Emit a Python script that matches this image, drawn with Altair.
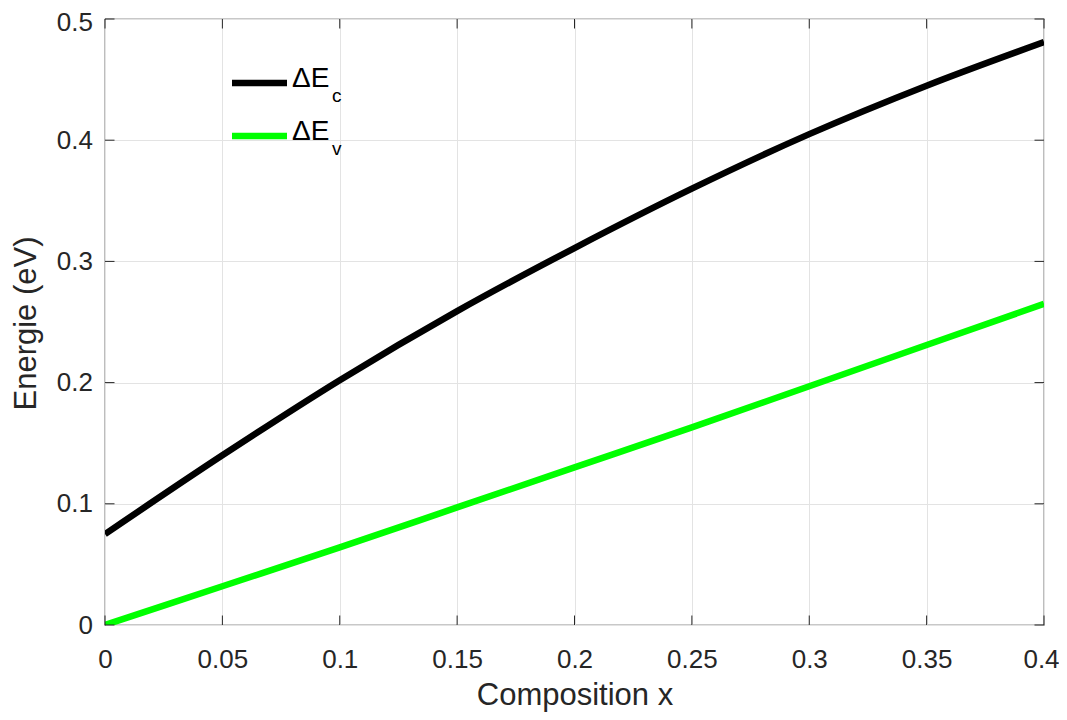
import altair as alt
import pandas as pd

# ---- data ----
composition = [0.0, 0.05, 0.10, 0.15, 0.20, 0.25, 0.30, 0.35, 0.40]
delta_ec = [0.075, 0.140, 0.202, 0.259, 0.311, 0.360, 0.405, 0.445, 0.481]
delta_ev = [0.0, 0.032, 0.064, 0.097, 0.130, 0.163, 0.197, 0.231, 0.265]

x_ticks = [0, 0.05, 0.1, 0.15, 0.2, 0.25, 0.3, 0.35, 0.4]
y_ticks = [0, 0.1, 0.2, 0.3, 0.4, 0.5]

series_names = ["Ec", "Ev"]
series_colors = ["#000000", "#00ff00"]
legend_main = ["\u0394E", "\u0394E"]
legend_sub = ["c", "v"]

W, H = 939, 606
FONT = "Liberation Sans"
AX = "#262626"

rows = []
for i, x in enumerate(composition):
    rows.append({"x": x, "y": delta_ec[i], "s": "Ec"})
    rows.append({"x": x, "y": delta_ev[i], "s": "Ev"})
df = pd.DataFrame(rows)

xs = alt.Scale(domain=[0, 0.4], nice=False, zero=False)
ys = alt.Scale(domain=[0, 0.5], nice=False, zero=False)
cs = alt.Scale(domain=series_names, range=series_colors)

lines = alt.Chart(df).mark_line(strokeWidth=6.5, interpolate="monotone", clip=True).encode(
    x=alt.X("x:Q", scale=xs, title="Composition x",
            axis=alt.Axis(values=x_ticks, format="~g", grid=True, gridColor="#e3e3e3",
                          gridWidth=1, domain=False, ticks=False, labelPadding=21,
                          labelFontSize=26, labelFont=FONT, labelColor=AX,
                          labelOffset={"condition": {"test": "datum.value >= 0.4", "value": -3},
                                       "value": 0},
                          titleFont=FONT, titleFontSize=31, titleFontWeight="normal",
                          titleColor=AX, titleY=79, titleBaseline="alphabetic",
                          labelFlush=False)),
    y=alt.Y("y:Q", scale=ys, title="Energie (eV)",
            axis=alt.Axis(values=y_ticks, format="~g", grid=True, gridColor="#e3e3e3",
                          gridWidth=1, domain=False, ticks=False, labelPadding=12.5,
                          labelFontSize=26, labelFont=FONT, labelColor=AX,
                          labelBaseline="middle",
                          labelOffset={"condition": {"test": "datum.value >= 0.5", "value": 3},
                                       "value": 0},
                          titleFont=FONT, titleFontSize=31, titleFontWeight="normal",
                          titleColor=AX, titleX=-70, titleY=304, titleAngle=-90,
                          titleBaseline="alphabetic", labelFlush=False)),
    color=alt.Color("s:N", scale=cs, legend=None),
    detail="s:N",
)

xt = pd.DataFrame({"t": x_ticks})
yt = pd.DataFrame({"t": y_ticks})
TL = 9.5
tick_layers = [
    alt.Chart(xt).mark_rule(color=AX, strokeWidth=1).encode(
        x=alt.X("t:Q", scale=xs), y=alt.value(H), y2=alt.value(H - TL)),
    alt.Chart(xt).mark_rule(color=AX, strokeWidth=1).encode(
        x=alt.X("t:Q", scale=xs), y=alt.value(0), y2=alt.value(TL)),
    alt.Chart(yt).mark_rule(color=AX, strokeWidth=1).encode(
        y=alt.Y("t:Q", scale=ys), x=alt.value(0), x2=alt.value(TL)),
    alt.Chart(yt).mark_rule(color=AX, strokeWidth=1).encode(
        y=alt.Y("t:Q", scale=ys), x=alt.value(W), x2=alt.value(W - TL)),
]

# ---- manual legend (subscripts) ----
legend_layers = []
row_y = [64, 117]
for i in range(2):
    ld = pd.DataFrame({"s": [series_names[i]], "m": [legend_main[i]], "sub": [legend_sub[i]]})
    legend_layers.append(alt.Chart(ld).mark_rule(strokeWidth=6.5).encode(
        x=alt.value(127), x2=alt.value(182), y=alt.value(row_y[i]),
        color=alt.Color("s:N", scale=cs, legend=None)))
    legend_layers.append(alt.Chart(ld).mark_text(
        align="left", baseline="alphabetic", font=FONT, fontSize=28, color="#000000").encode(
        text="m:N", x=alt.value(187), y=alt.value(row_y[i] + 4)))
    legend_layers.append(alt.Chart(ld).mark_text(
        align="left", baseline="alphabetic", font=FONT, fontSize=19, color="#000000").encode(
        text="sub:N", x=alt.value(227), y=alt.value(row_y[i] + 19)))

chart = alt.layer(lines, *tick_layers, *legend_layers).properties(
    width=W, height=H,
    autosize=alt.AutoSizeParams(type="none"),
    padding={"left": 97, "top": 11, "right": 15, "bottom": 87},
    background="white",
).configure_view(stroke=AX, strokeWidth=1.2)

chart.save("out.html", embed_options={"renderer": "svg", "actions": False})
